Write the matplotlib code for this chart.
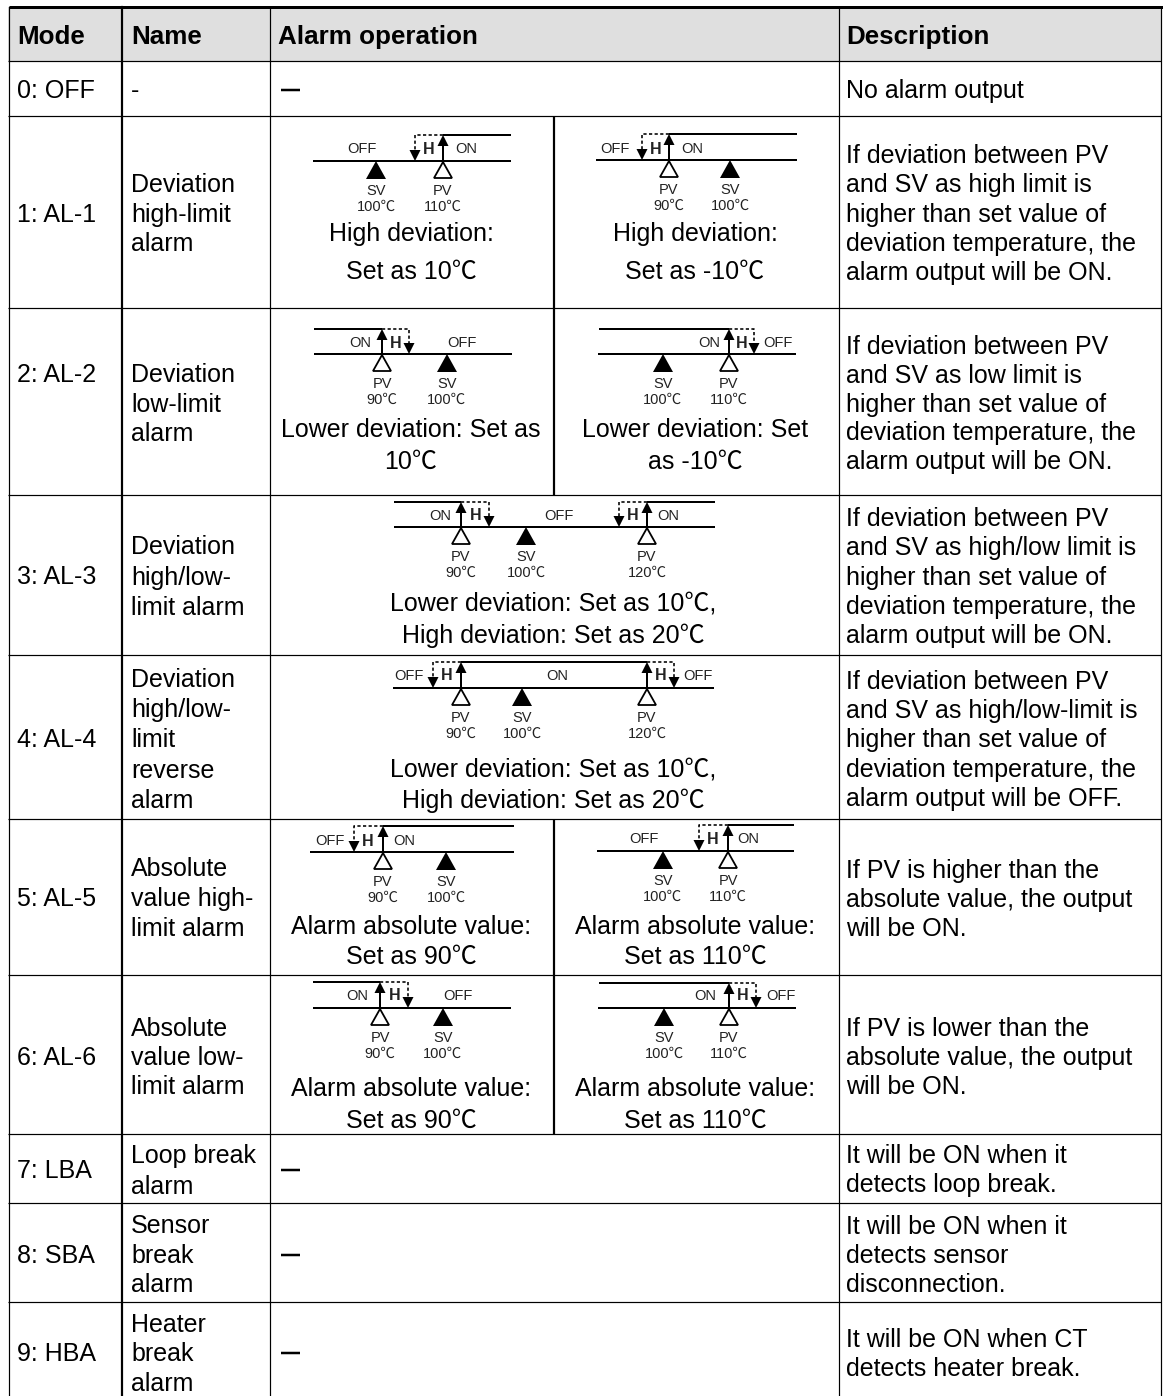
import matplotlib
matplotlib.use('Agg')
import matplotlib.pyplot as plt

plt.rcParams['font.family'] = ['Liberation Sans', 'Noto Sans CJK SC', 'DejaVu Sans']

# table text
headers = ['Mode', 'Name', 'Alarm operation', 'Description']
header_x = [17, 131, 278, 846]

modes = ['0: OFF', '1: AL-1', '2: AL-2', '3: AL-3', '4: AL-4', '5: AL-5',
         '6: AL-6', '7: LBA', '8: SBA', '9: HBA']
mode_y = [89, 213, 373, 575, 738, 897, 1056, 1169, 1254, 1352]

names = [['-'],
         ['Deviation', 'high-limit', 'alarm'],
         ['Deviation', 'low-limit', 'alarm'],
         ['Deviation', 'high/low-', 'limit alarm'],
         ['Deviation', 'high/low-', 'limit', 'reverse', 'alarm'],
         ['Absolute', 'value high-', 'limit alarm'],
         ['Absolute', 'value low-', 'limit alarm'],
         ['Loop break', 'alarm'],
         ['Sensor', 'break', 'alarm'],
         ['Heater', 'break', 'alarm']]
name_y = [[89], [183, 213, 242], [373, 403, 432], [545, 576, 606],
          [678, 708, 738, 769, 799], [867, 897, 927], [1027, 1056, 1085],
          [1154, 1185], [1224, 1254, 1283], [1323, 1352, 1382]]

desc = [['No alarm output'],
        ['If deviation between PV', 'and SV as high limit is', 'higher than set value of',
         'deviation temperature, the', 'alarm output will be ON.'],
        ['If deviation between PV', 'and SV as low limit is', 'higher than set value of',
         'deviation temperature, the', 'alarm output will be ON.'],
        ['If deviation between PV', 'and SV as high/low limit is', 'higher than set value of',
         'deviation temperature, the', 'alarm output will be ON.'],
        ['If deviation between PV', 'and SV as high/low-limit is', 'higher than set value of',
         'deviation temperature, the', 'alarm output will be OFF.'],
        ['If PV is higher than the', 'absolute value, the output', 'will be ON.'],
        ['If PV is lower than the', 'absolute value, the output', 'will be ON.'],
        ['It will be ON when it', 'detects loop break.'],
        ['It will be ON when it', 'detects sensor', 'disconnection.'],
        ['It will be ON when CT', 'detects heater break.']]
desc_y = [[89], [154, 183, 213, 242, 271], [345, 374, 403, 431, 460],
          [517, 546, 576, 605, 634], [680, 709, 738, 768, 797], [869, 898, 927],
          [1027, 1056, 1085], [1154, 1183], [1225, 1254, 1283], [1338, 1367]]

# grid
row_lines = [61, 116, 308, 495, 655, 819, 975, 1134, 1203, 1302]
dash_y = [90, 1170, 1255, 1353]
split_spans = [(116, 495), (819, 1134)]

# alarm diagrams, left to right and top to bottom
base_lines = [(313, 511, 161), (596, 797, 160), (314, 512, 354), (598, 796, 354),
              (394, 715, 527), (393, 714, 688), (310, 514, 852), (597, 794, 851),
              (313, 511, 1008), (598, 796, 1008)]
top_lines = [[(443, 511, 135)], [(669, 797, 134)], [(314, 382, 329)], [(599, 729, 329)],
             [(394, 461, 502), (647, 715, 502)], [(461, 647, 662)], [(383, 514, 826)],
             [(728, 794, 825)], [(313, 380, 982)], [(599, 729, 983)]]
steps = [[(443, 415)], [(669, 642)], [(382, 409)], [(729, 754)],
         [(461, 489), (647, 619)], [(461, 433), (647, 674)], [(383, 354)],
         [(728, 699)], [(380, 408)], [(729, 756)]]
sv_marks = [(376, '100℃'), (730, '100℃'), (447, '100℃'), (663, '100℃'), (526, '100℃'),
            (522, '100℃'), (446, '100℃'), (663, '100℃'), (443, '100℃'), (664, '100℃')]
pv_marks = [[(443, '110℃')], [(669, '90℃')], [(382, '90℃')], [(729, '110℃')],
            [(461, '90℃'), (647, '120℃')], [(461, '90℃'), (647, '120℃')], [(383, '90℃')],
            [(728, '110℃')], [(380, '90℃')], [(729, '110℃')]]
state_labels = [[('OFF', 362), ('ON', 466)], [('OFF', 615), ('ON', 692)],
                [('ON', 360), ('OFF', 462)], [('ON', 709), ('OFF', 778)],
                [('ON', 440), ('OFF', 559), ('ON', 668)], [('OFF', 409), ('ON', 557), ('OFF', 698)],
                [('OFF', 330), ('ON', 404)], [('OFF', 644), ('ON', 748)],
                [('ON', 357), ('OFF', 458)], [('ON', 705), ('OFF', 781)]]
h_labels = [[429], [656], [396], [742], [476, 633], [447, 661], [368], [713], [395], [743]]
state_y = [148, 148, 342, 342, 515, 675, 840, 838, 995, 995]

captions = [('High deviation:', 411, 232), ('Set as 10℃', 411, 270),
            ('High deviation:', 695, 232), ('Set as -10℃', 695, 270),
            ('Lower deviation: Set as', 411, 428), ('10℃', 411, 460),
            ('Lower deviation: Set', 695, 428), ('as -10℃', 695, 460),
            ('Lower deviation: Set as 10℃,', 553, 602), ('High deviation: Set as 20℃', 553, 634),
            ('Lower deviation: Set as 10℃,', 553, 767), ('High deviation: Set as 20℃', 553, 799),
            ('Alarm absolute value:', 411, 925), ('Set as 90℃', 411, 955),
            ('Alarm absolute value:', 695, 925), ('Set as 110℃', 695, 955),
            ('Alarm absolute value:', 411, 1087), ('Set as 90℃', 411, 1119),
            ('Alarm absolute value:', 695, 1087), ('Set as 110℃', 695, 1119)]

W, H = 1163, 1396
fig = plt.figure(figsize=(W / 100, H / 100), dpi=100)
ax = fig.add_axes([0, 0, 1, 1])
ax.set_xlim(0, W)
ax.set_ylim(H, 0)
ax.axis('off')

px = 0.72  # one pixel in points
text_shift = 2  # va center sits a bit high because of the descenders

# header band and grid
ax.fill_between([8, 1161], 7, 61, color='#dfdfdf', lw=0)
ax.plot([9, 1163], [6.5, 6.5], color='k', lw=3 * px, solid_capstyle='butt')
for y in row_lines:
    ax.plot([8, 1161], [y, y], color='k', lw=1.2 * px, solid_capstyle='butt')
ax.plot([8.5, 8.5], [7, H], color='k', lw=1.2 * px)
ax.plot([122, 122], [7, H], color='k', lw=2.2 * px)
ax.plot([269.5, 269.5], [7, H], color='k', lw=1.2 * px)
ax.plot([838.5, 838.5], [7, H], color='k', lw=1.2 * px)
ax.plot([1160.5, 1160.5], [7, H], color='k', lw=1.2 * px)
for y0, y1 in split_spans:
    ax.plot([553.5, 553.5], [y0, y1], color='k', lw=2.2 * px, solid_capstyle='butt')

# table text
for label, x in zip(headers, header_x):
    ax.text(x, 35 + text_shift, label, fontsize=18.7, fontweight='bold', va='center', ha='left')
for label, y in zip(modes, mode_y):
    ax.text(17, y + text_shift, label, fontsize=18, va='center', ha='left')
for lines, ys in zip(names, name_y):
    for label, y in zip(lines, ys):
        ax.text(131, y + text_shift, label, fontsize=18, va='center', ha='left')
for lines, ys in zip(desc, desc_y):
    for label, y in zip(lines, ys):
        ax.text(846, y + text_shift, label, fontsize=18, va='center', ha='left')
for y in dash_y:
    ax.plot([281, 300], [y, y], color='k', lw=2.5 * px, solid_capstyle='butt')
for label, x, y in captions:
    ax.text(x, y + text_shift, label, fontsize=18, va='center', ha='center')


def arrow_head(x, tip, direction):
    # direction -1 points up, +1 points down
    ax.fill([x - 5.5, x + 5.5, x], [tip - direction * 11, tip - direction * 11, tip], color='k', lw=0, zorder=4)


def small_text(x, y, label, weight='normal', size=10.5):
    ax.text(x, y + 1, label, fontsize=size, color='#222222', fontweight=weight, va='center', ha='center')


for i in range(len(base_lines)):
    x0, x1, yb = base_lines[i]
    ax.plot([x0, x1], [yb, yb], color='k', lw=2 * px, solid_capstyle='butt')
    yt = top_lines[i][0][2]
    for xa, xb, y in top_lines[i]:
        ax.plot([xa, xb], [y, y], color='k', lw=2 * px, solid_capstyle='butt')
    for x_pv, x_h in steps[i]:
        ax.plot([x_pv, x_pv], [yb, yt + 5], color='k', lw=2 * px, solid_capstyle='butt')
        arrow_head(x_pv, yt, -1)
        ax.plot([x_pv, x_h, x_h], [yt, yt, yb - 8], color='k', lw=1.6 * px, dashes=(2, 1.5))
        arrow_head(x_h, yb, 1)
    x, temp = sv_marks[i]
    ax.fill([x, x - 10, x + 10], [yb, yb + 18, yb + 18], color='k', lw=0, zorder=4)
    small_text(x, yb + 29, 'SV')
    small_text(x, yb + 45, temp)
    for x, temp in pv_marks[i]:
        ax.fill([x, x - 9, x + 9], [yb + 1, yb + 17, yb + 17], fc='w', ec='k', lw=1.8 * px, zorder=4)
        small_text(x, yb + 29, 'PV')
        small_text(x, yb + 45, temp)
    for label, x in state_labels[i]:
        small_text(x, state_y[i], label)
    for x in h_labels[i]:
        small_text(x, state_y[i], 'H', weight='bold', size=11.5)

fig.savefig('out.png', dpi=100)
